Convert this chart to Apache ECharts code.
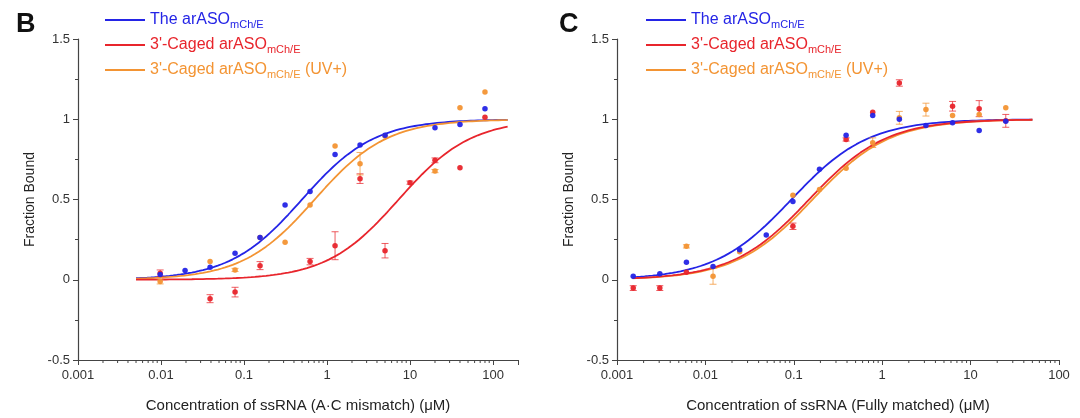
<!DOCTYPE html>
<html><head><meta charset="utf-8">
<script src="https://cdn.jsdelivr.net/npm/echarts@6/dist/echarts.min.js"></script>
<style>html,body{margin:0;padding:0;background:#fff}#c{width:1080px;height:418px}</style>
</head><body><div id="c"></div>
<script>
// ---------- Panel B data (A·C mismatch) ----------
const xB = [0.00977, 0.0195, 0.039, 0.078, 0.156, 0.3125, 0.625, 1.25, 2.5, 5, 10, 20, 40, 80];
const bBlue   = [0.032, 0.057, 0.078, 0.165, 0.264, 0.465, 0.550, 0.781, 0.839, 0.900, null, 0.947, 0.967, 1.065];
const bRed    = [0.041, null, -0.118, -0.077, 0.088, null, 0.113, 0.212, 0.630, 0.181, 0.605, 0.744, 0.698, 1.012];
const bOrange = [-0.011, null, 0.113, 0.061, 0.264, 0.233, 0.465, 0.833, 0.723, 0.895, null, 0.677, 1.071, 1.170];
const bRedErr    = [0.02, null, 0.025, 0.03, 0.025, null, 0.02, 0.087, 0.03, 0.045, 0.01, 0.015, null, null];
const bOrangeErr = [0.015, null, null, 0.01, null, null, null, null, 0.07, null, null, 0.01, null, null];
const bKd = [0.50, 7.3, 0.71];          // fitted midpoints: blue, red, orange
const bFitRange = [0.005, 150];

// ---------- Panel C data (fully matched) ----------
const xC = [0.001526, 0.00305, 0.0061, 0.0122, 0.0244, 0.0488, 0.0977, 0.1953, 0.3906, 0.78125, 1.5625, 3.125, 6.25, 12.5, 25];
const cBlue   = [0.022, 0.037, 0.109, 0.082, 0.187, 0.279, 0.488, 0.688, 0.901, 1.023, 1.000, 0.961, 0.978, 0.930, 0.988];
const cRed    = [-0.052, -0.052, 0.047, null, null, null, 0.333, null, 0.874, 1.044, 1.226, null, 1.081, 1.066, 0.990];
const cOrange = [null, null, 0.208, 0.022, 0.175, null, 0.527, 0.563, 0.694, 0.854, 1.009, 1.060, 1.023, 1.029, 1.071];
const cRedErr    = [0.015, 0.015, null, null, null, null, 0.02, null, 0.01, null, 0.02, null, 0.03, 0.05, 0.04];
const cOrangeErr = [null, null, 0.01, 0.05, null, null, null, null, null, 0.03, 0.04, 0.04, null, null, null];
const cKd = [0.094, 0.149, 0.163];
const cFitRange = [0.0015, 50];

// ---------- Labels ----------
const xTickLabels = ['0.001', '0.01', '0.1', '1', '10', '100'];
const legendMain = ['The arASO', "3'-Caged arASO", "3'-Caged arASO"];
const legendSub = 'mCh/E';
const legendTail = ['', '', ' (UV+)'];
const seriesNames = ['The arASOmCh/E', "3'-Caged arASOmCh/E", "3'-Caged arASOmCh/E (UV+)"];
const xNames = ['Concentration of ssRNA (A\u00B7C mismatch) (\u03BCM)', 'Concentration of ssRNA (Fully matched) (\u03BCM)'];
const yName = 'Fraction Bound';
const panelLetters = ['B', 'C'];
const minorMantissa = [2, 3, 4, 5, 6, 7, 8, 9];
const minorDecades = [0.001, 0.01, 0.1, 1, 10, 100];

const COLORS = ['#2424e6', '#e8252c', '#f39433'];
const FONT = 'Liberation Sans, Arial, sans-serif';

function hillCurve(kd, range) {
  const pts = [];
  const a = Math.log10(range[0]), b = Math.log10(range[1]);
  const n = 200;
  for (let i = 0; i <= n; i++) {
    const x = Math.pow(10, a + (b - a) * i / n);
    pts.push([x, x / (x + kd)]);
  }
  return pts;
}
function pairs(xs, ys) {
  const out = [];
  xs.forEach((x, i) => { if (ys[i] != null) out.push([x, ys[i]]); });
  return out;
}
function errData(xs, ys, es) {
  const out = [];
  xs.forEach((x, i) => { if (ys[i] != null && es[i] != null) out.push([x, ys[i], es[i]]); });
  return out;
}
function errSeries(idx, xs, ys, es, color) {
  return {
    type: 'custom', xAxisIndex: idx, yAxisIndex: idx, z: 4, silent: true,
    data: errData(xs, ys, es),
    renderItem: function (params, api) {
      const x = api.value(0), y = api.value(1), e = api.value(2);
      const t = api.coord([x, y + e]), b = api.coord([x, y - e]);
      const w = 3.5, st = { stroke: color, lineWidth: 1, opacity: 0.75 };
      return { type: 'group', children: [
        { type: 'line', shape: { x1: t[0], y1: t[1], x2: b[0], y2: b[1] }, style: st },
        { type: 'line', shape: { x1: t[0] - w, y1: t[1], x2: t[0] + w, y2: t[1] }, style: st },
        { type: 'line', shape: { x1: b[0] - w, y1: b[1], x2: b[0] + w, y2: b[1] }, style: st }
      ]};
    }
  };
}
function minorTickSeries(idx, max) {
  const data = [];
  minorDecades.forEach(d => minorMantissa.forEach(m => { const v = d * m; if (v < max * 0.999) data.push([v, -0.5]); }));
  return {
    type: 'custom', xAxisIndex: idx, yAxisIndex: idx, silent: true, clip: false, z: 3,
    data: data,
    renderItem: function (params, api) {
      const p = api.coord([api.value(0), api.value(1)]);
      return { type: 'line', shape: { x1: p[0], y1: p[1], x2: p[0], y2: p[1] + 3 }, style: { stroke: '#444', lineWidth: 1 } };
    }
  };
}

const grids = [
  { left: 78, top: 39, width: 440, height: 323 },
  { left: 617, top: 39, width: 442, height: 323 }
];
const xMax = [200, 100];

const xAxes = [0, 1].map(i => ({
  type: 'log', logBase: 10, gridIndex: i, min: 0.001, max: xMax[i],
  name: xNames[i], nameLocation: 'middle', nameGap: 38,
  nameTextStyle: { fontSize: 15, color: '#222', fontFamily: FONT },
  axisLine: { show: true, onZero: false, lineStyle: { color: '#444', width: 1.2 } },
  axisTick: { show: true, length: 5, lineStyle: { color: '#444' } },
  axisLabel: {
    fontSize: 13, color: '#333', fontFamily: FONT, margin: 9,
    formatter: function (v) {
      const k = Math.round(Math.log10(v)) + 3;
      if (Math.abs(Math.log10(v) - (k - 3)) > 1e-6) return '';
      return xTickLabels[k] || '';
    }
  },
  splitLine: { show: false }
}));
const yAxes = [0, 1].map(i => ({
  type: 'value', gridIndex: i, min: -0.5, max: 1.5, interval: 0.5,
  name: yName, nameLocation: 'middle', nameGap: 41,
  nameTextStyle: { fontSize: 14, color: '#222', fontFamily: FONT },
  axisLine: { show: true, onZero: false, lineStyle: { color: '#444', width: 1.2 } },
  axisTick: { show: true, length: 5, lineStyle: { color: '#444' } },
  minorTick: { show: true, splitNumber: 2, length: 3, lineStyle: { color: '#444' } },
  axisLabel: { fontSize: 13, color: '#333', fontFamily: FONT, margin: 8 },
  splitLine: { show: false }
}));

const series = [];
const panels = [
  { xs: xB, ys: [bBlue, bRed, bOrange], errs: [null, bRedErr, bOrangeErr], kd: bKd, range: bFitRange },
  { xs: xC, ys: [cBlue, cRed, cOrange], errs: [null, cRedErr, cOrangeErr], kd: cKd, range: cFitRange }
];
panels.forEach((p, i) => {
  series.push(minorTickSeries(i, xMax[i]));
  [0, 2, 1].forEach(s => {
    series.push({
      name: seriesNames[s], type: 'line', xAxisIndex: i, yAxisIndex: i,
      data: hillCurve(p.kd[s], p.range), showSymbol: false, symbol: 'none', smooth: false,
      lineStyle: { color: COLORS[s], width: 1.8 }, itemStyle: { color: COLORS[s] }, z: 2, silent: true
    });
  });
  [1, 2].forEach(s => series.push(errSeries(i, p.xs, p.ys[s], p.errs[s], COLORS[s])));
  [2, 1, 0].forEach(s => {
    series.push({
      name: 'pts' + i + s, type: 'scatter', xAxisIndex: i, yAxisIndex: i,
      data: pairs(p.xs, p.ys[s]), symbol: 'circle', symbolSize: 5.5,
      itemStyle: { color: COLORS[s], opacity: 0.95 }, z: 5, silent: true
    });
  });
});

const richKeys = ['b', 'r', 'o'];
const rich = {};
richKeys.forEach((k, i) => {
  rich['m' + k] = { color: COLORS[i], fontSize: 16, lineHeight: 20, fontFamily: FONT };
  rich['s' + k] = { color: COLORS[i], fontSize: 11, lineHeight: 10, verticalAlign: 'bottom', fontFamily: FONT };
});
function legendFormatter(name) {
  const i = seriesNames.indexOf(name);
  const k = richKeys[i];
  let s = '{m' + k + '|' + legendMain[i] + '}{s' + k + '|' + legendSub + '}';
  if (legendTail[i]) s += '{m' + k + '|' + legendTail[i] + '}';
  return s;
}
const legends = [100, 641].map(left => ({
  left: left, top: 7, orient: 'vertical', icon: 'rect', itemWidth: 40, itemHeight: 2, itemGap: 7,
  selectedMode: false, data: seriesNames.slice(),
  formatter: legendFormatter, textStyle: { fontSize: 16, rich: rich, padding: [0, 0, 0, 0] }
}));

const chart = echarts.init(document.getElementById('c'), null, { renderer: 'canvas' });
chart.setOption({
  backgroundColor: '#fff',
  animation: false,
  title: panelLetters.map((t, i) => ({
    text: t, left: i === 0 ? 11 : 554, top: 6,
    textStyle: { fontSize: 27, fontWeight: 'bold', color: '#111', fontFamily: FONT }
  })),
  legend: legends,
  grid: grids,
  xAxis: xAxes,
  yAxis: yAxes,
  series: series
});
</script></body></html>
